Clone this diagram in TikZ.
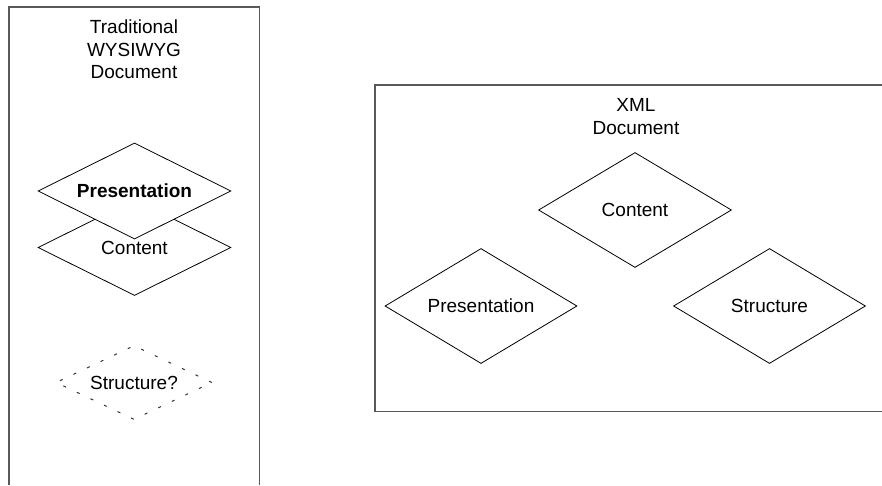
\documentclass[tikz,border=0pt]{standalone}
\usepackage{fontspec}
\setmainfont{Liberation Sans}
\usetikzlibrary{shapes.geometric}
\begin{document}
\begin{tikzpicture}[x=1pt,y=-1pt,
  frame/.style={draw=black!65, line width=1.3pt},
  label/.style={font=\fontsize{19}{22.5}\selectfont},
  facet/.style={label, diamond, draw=black, line width=0.8pt, fill=white,
    inner sep=0pt, text height=13.6pt, text depth=0pt},
  title/.style={label, align=center, inner sep=0pt, anchor=north}]
\useasboundingbox (0,0) rectangle (882,485);

% frames (open where they run off the page)
\coordinate (l1) at (9,485);   \coordinate (l2) at (9,7);
\coordinate (l3) at (259.3,7); \coordinate (l4) at (259.3,485);
\draw[frame] (l1) -- (l2) -- (l3) -- (l4);
\coordinate (r1) at (882,85);    \coordinate (r2) at (375,85);
\coordinate (r3) at (375,411.7); \coordinate (r4) at (882,411.7);
\draw[frame] (r1) -- (r2) -- (r3) -- (r4);

% traditional document
\node[title] (ttitle) at (134,20) {Traditional\\WYSIWYG\\Document};
\node[facet, aspect=2, minimum width=193pt, minimum height=96pt] (tcontent) at (134.5,247.5) {Content};
\node[facet, aspect=2, minimum width=193pt, minimum height=96pt, font=\fontsize{19}{22.5}\selectfont\bfseries] (tpres) at (134.5,191) {Presentation};
\node[facet, aspect=2.1, minimum width=156pt, minimum height=74pt, draw=black!80, line width=1pt,
  dash pattern=on 3pt off 12pt] (tstruct) at (134,382.5) {Structure?};

% XML document
\node[title] (xtitle) at (636,98.3) {XML\\Document};
\node[facet, aspect=1.67, minimum width=193pt, minimum height=115pt] (xcontent) at (635,210) {Content};
\node[facet, aspect=1.67, minimum width=192pt, minimum height=115pt] (xpres) at (481,306) {Presentation};
\node[facet, aspect=1.67, minimum width=192pt, minimum height=115pt] (xstruct) at (769.5,306) {Structure};
\end{tikzpicture}
\end{document}
